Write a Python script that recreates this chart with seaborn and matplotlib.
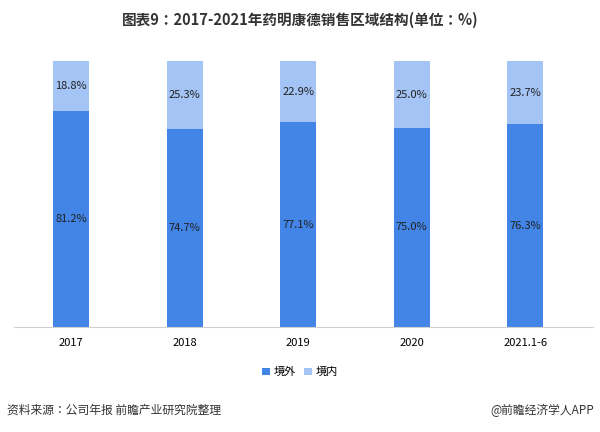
import matplotlib
matplotlib.use("Agg")
import matplotlib.pyplot as plt
import seaborn as sns
import pandas as pd

plt.rcParams["font.family"] = ["Noto Sans CJK SC", "Noto Sans CJK JP", "Noto Sans CJK TC", "Noto Sans CJK KR", "DejaVu Sans"]
plt.rcParams["axes.unicode_minus"] = False

years = ["2017", "2018", "2019", "2020", "2021.1-6"]
overseas = [81.2, 74.7, 77.1, 75.0, 76.3]
domestic = [18.8, 25.3, 22.9, 25.0, 23.7]

df = pd.DataFrame({"year": years, "境外": overseas, "境内": domestic})
df["total"] = df["境外"] + df["境内"]

fig = plt.figure(figsize=(6, 4.32), dpi=100)
ax = fig.add_axes([0.024, 0.243, 0.965, 0.615])

c_out, c_in = "#4285e6", "#a3c4f5"
sns.barplot(data=df, x="year", y="total", color=c_in, width=0.32, ax=ax, saturation=1, label="境内")
sns.barplot(data=df, x="year", y="境外", color=c_out, width=0.32, ax=ax, saturation=1, label="境外")

for i, (o, d) in enumerate(zip(overseas, domestic)):
    ax.text(i, o / 2, f"{o:.1f}%", ha="center", va="center", fontsize=8, color="#222222")
    ax.text(i, o + d / 2, f"{d:.1f}%", ha="center", va="center", fontsize=8, color="#222222")

ax.set_ylim(0, 100)
ax.set_xlim(-0.5, 4.6)
ax.set_xlabel("")
ax.set_ylabel("")
ax.set_yticks([])
for s in ["top", "right", "left"]:
    ax.spines[s].set_visible(False)
ax.spines["bottom"].set_color("#d0d0d0")
ax.tick_params(axis="x", length=0, labelsize=8, pad=8)

h, l = ax.get_legend_handles_labels()
order = [l.index("境外"), l.index("境内")]
fig.legend([h[i] for i in order], [l[i] for i in order], loc="center", bbox_to_anchor=(0.5, 0.138),
           ncol=2, frameon=False, fontsize=8, handlelength=0.7, handleheight=0.7, columnspacing=0.8, handletextpad=0.3)
if ax.get_legend():
    ax.get_legend().remove()

fig.text(0.5, 0.955, "图表9：2017-2021年药明康德销售区域结构(单位：%)", ha="center", va="center",
         fontsize=10.5, fontweight="bold", color="#333333")
fig.text(0.012, 0.05, "资料来源：公司年报 前瞻产业研究院整理", ha="left", va="center", fontsize=8.5, color="#333333")
fig.text(0.99, 0.05, "@前瞻经济学人APP", ha="right", va="center", fontsize=8.5, color="#333333")

fig.savefig("out.png", dpi=100)
